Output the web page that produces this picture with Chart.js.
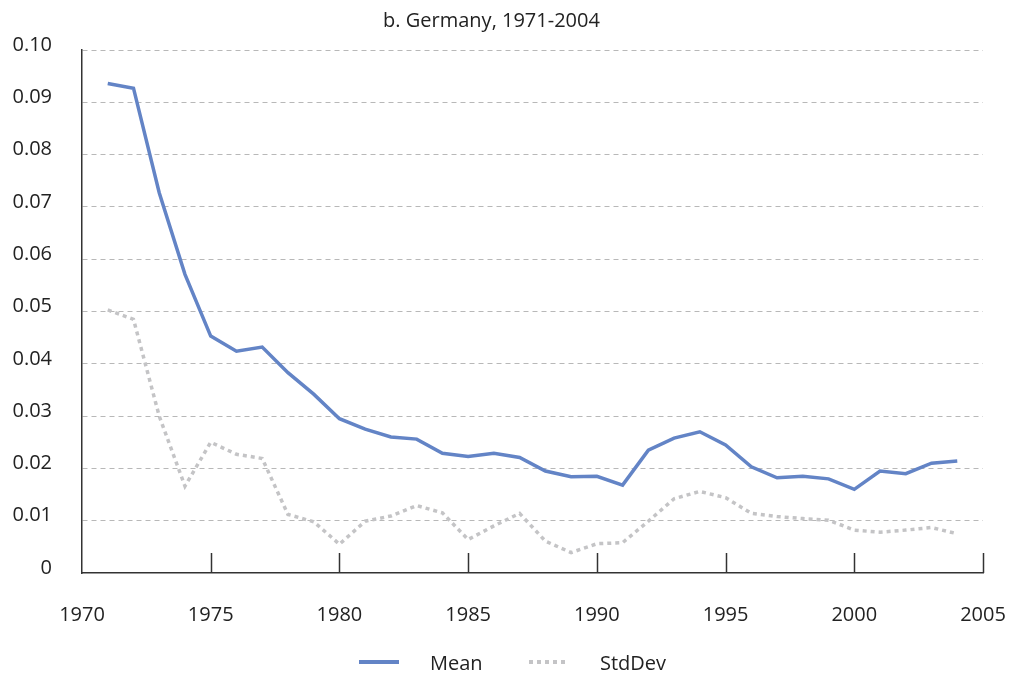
<!DOCTYPE html>
<html>
<head>
<meta charset="utf-8">
<script src="https://cdn.jsdelivr.net/npm/chart.js@4.4.1/dist/chart.umd.min.js"></script>
<style>
  html, body { margin: 0; padding: 0; background: #fff; }
  #wrap { position: relative; width: 1019px; height: 675px; }
  #legend { position: absolute; top: 648px; left: 0; width: 1019px; height: 28px;
    font-family: "Open Sans", sans-serif; font-size: 20px; color: #222; }
  .item { position: absolute; top: 0; display: flex; align-items: center; height: 28px; }
  .item svg { margin-right: 31px; }
</style>
</head>
<body>
<div id="wrap">
  <canvas id="chart" width="1019" height="675"></canvas>
  <div id="legend">
    <div class="item" style="left:359px">
      <svg width="40" height="4"><line x1="0" y1="2" x2="40" y2="2" stroke="#6384c6" stroke-width="4"/></svg>
      <span>Mean</span>
    </div>
    <div class="item" style="left:529px">
      <svg width="40" height="4"><line x1="0" y1="2" x2="40" y2="2" stroke="#c4c4c6" stroke-width="4" stroke-dasharray="4 4"/></svg>
      <span>StdDev</span>
    </div>
  </div>
</div>
<script>
const years = [1971, 1972, 1973, 1974, 1975, 1976, 1977, 1978, 1979, 1980,
  1981, 1982, 1983, 1984, 1985, 1986, 1987, 1988, 1989, 1990,
  1991, 1992, 1993, 1994, 1995, 1996, 1997, 1998, 1999, 2000,
  2001, 2002, 2003, 2004];

const meanValues = [0.0936, 0.0927, 0.0727, 0.0571, 0.0453, 0.0424, 0.0432, 0.0383, 0.0342, 0.0295,
  0.0275, 0.0260, 0.0256, 0.0229, 0.0223, 0.0229, 0.0221, 0.0195, 0.0184, 0.0185,
  0.0168, 0.0235, 0.0258, 0.0270, 0.0245, 0.0203, 0.0182, 0.0185, 0.0180, 0.0160,
  0.0195, 0.0190, 0.0210, 0.0214];

const stdDevValues = [0.0503, 0.0485, 0.0300, 0.0166, 0.0250, 0.0227, 0.0219, 0.0112, 0.0098, 0.0055,
  0.0099, 0.0109, 0.0129, 0.0115, 0.0064, 0.0090, 0.0114, 0.0061, 0.0039, 0.0056,
  0.0058, 0.0099, 0.0142, 0.0156, 0.0144, 0.0114, 0.0108, 0.0104, 0.0101, 0.0082,
  0.0078, 0.0082, 0.0087, 0.0075];

const xTickYears = [1970, 1975, 1980, 1985, 1990, 1995, 2000, 2005];

const FONT = "'Open Sans', sans-serif";
const AXIS = "#333333";

function toPoints(values) {
  return years.map((yr, i) => ({ x: yr, y: values[i] }));
}

// x ticks in the picture point up into the plot, so draw them here
const innerTicks = {
  id: "innerTicks",
  afterDatasetsDraw(chart) {
    const x = chart.scales.x;
    const ctx = chart.ctx;
    const bottom = chart.chartArea.bottom;
    ctx.save();
    ctx.strokeStyle = AXIS;
    ctx.lineWidth = 1.5;
    xTickYears.slice(1).forEach((yr) => {
      const px = Math.round(x.getPixelForValue(yr)) + 0.5;
      ctx.beginPath();
      ctx.moveTo(px, bottom);
      ctx.lineTo(px, bottom - 20);
      ctx.stroke();
    });
    ctx.restore();
  },
};

const ctx = document.getElementById("chart").getContext("2d");
new Chart(ctx, {
  type: "line",
  data: {
    datasets: [
      {
        label: "Mean",
        data: toPoints(meanValues),
        borderColor: "#6384c6",
        borderWidth: 3.5,
        pointRadius: 0,
        tension: 0,
      },
      {
        label: "StdDev",
        data: toPoints(stdDevValues),
        borderColor: "#c4c4c6",
        borderWidth: 3.5,
        borderDash: [4, 4],
        pointRadius: 0,
        tension: 0,
      },
    ],
  },
  options: {
    responsive: false,
    animation: false,
    layout: { padding: { left: 0, right: 36, top: 0, bottom: 18 } },
    plugins: {
      legend: { display: false },
      tooltip: { enabled: false },
      title: {
        display: true,
        text: "b. Germany, 1971-2004",
        color: "#222",
        font: { family: FONT, size: 20, weight: "normal" },
        padding: { top: 9, bottom: 17 },
      },
    },
    scales: {
      x: {
        type: "linear",
        min: 1970,
        max: 2005,
        afterBuildTicks(scale) {
          scale.ticks = xTickYears.map((v) => ({ value: v }));
        },
        afterFit(scale) {
          scale.paddingLeft = 0;
          scale.paddingRight = 0;
        },
        grid: { drawOnChartArea: false, drawTicks: false },
        border: { display: true, color: AXIS, width: 1.5 },
        ticks: {
          color: "#222",
          padding: 30,
          maxRotation: 0,
          font: { family: FONT, size: 20 },
          callback: (v) => String(v),
        },
      },
      y: {
        min: 0,
        max: 0.1,
        afterFit(scale) {
          scale.width = 82;
        },
        ticks: {
          stepSize: 0.01,
          color: "#222",
          padding: 30,
          labelOffset: -5,
          font: { family: FONT, size: 20 },
          callback: (v) => (v === 0 ? "0" : v.toFixed(2)),
        },
        grid: {
          drawTicks: false,
          color: (c) => (c.tick && c.tick.value === 0 ? "rgba(0,0,0,0)" : "#b8b8b8"),
          lineWidth: 1,
        },
        border: { display: true, color: AXIS, width: 1.5, dash: [5, 4] },
      },
    },
  },
  plugins: [innerTicks],
});
</script>
</body>
</html>
